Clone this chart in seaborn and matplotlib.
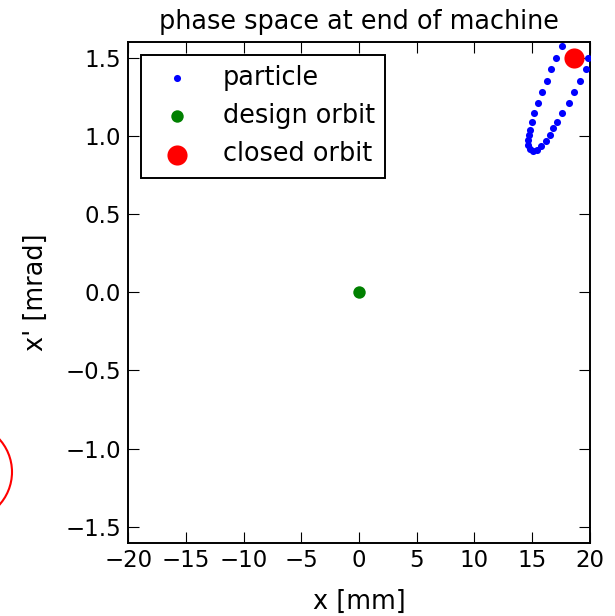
import matplotlib
matplotlib.use("Agg")
import matplotlib.pyplot as plt
from matplotlib.patches import Ellipse
import seaborn as sns
import pandas as pd

# Tracked particle coordinates at the end of the machine (turn by turn)
particle_x = [17.55, 17.11, 16.68, 16.27, 15.90, 15.54, 15.19, 15.03, 14.84,
              14.74, 14.67, 14.65, 14.80, 15.09, 15.43, 15.81, 16.19, 16.53,
              16.82, 17.17, 17.55, 18.19, 18.64, 19.13, 19.63, 19.85]
particle_xp = [1.575, 1.500, 1.425, 1.350, 1.279, 1.209, 1.145, 1.088, 1.037,
               1.005, 0.975, 0.943, 0.917, 0.900, 0.911, 0.932, 0.964, 1.002,
               1.048, 1.091, 1.146, 1.208, 1.278, 1.350, 1.424, 1.499]

# Reference orbits
design_x, design_xp = [0.0], [0.0]
closed_x, closed_xp = [18.6], [1.5]

x_ticks = [-20, -15, -10, -5, 0, 5, 10, 15, 20]
y_ticks = [-1.5, -1.0, -0.5, 0.0, 0.5, 1.0, 1.5]

tick_size = 16.5
text_size = 18.4
sns.set_theme(style="white")
plt.rcParams.update({
    "font.family": ["DejaVu Sans"],
    "font.size": tick_size,
    "xtick.labelsize": tick_size,
    "ytick.labelsize": tick_size,
    "axes.labelsize": text_size,
    "axes.titlesize": text_size,
    "legend.fontsize": text_size,
    "axes.edgecolor": "black",
    "axes.linewidth": 1.4,
    "xtick.direction": "in",
    "ytick.direction": "in",
    "xtick.top": True,
    "ytick.right": True,
    "xtick.bottom": True,
    "ytick.left": True,
    "xtick.major.size": 8,
    "ytick.major.size": 8,
    "xtick.major.width": 0.8,
    "ytick.major.width": 0.8,
    "xtick.major.pad": 5,
    "ytick.major.pad": 5,
    "xtick.color": "black",
    "ytick.color": "black",
    "text.color": "black",
    "axes.labelcolor": "black",
})

fig = plt.figure(figsize=(6.15, 6.16), dpi=100)
ax = fig.add_axes([0.2086, 0.1193, 0.7504, 0.8127])

particles = pd.DataFrame({"x": particle_x, "xp": particle_xp})
sns.scatterplot(data=particles, x="x", y="xp", ax=ax, color="blue", s=26,
                linewidth=0, label="particle", zorder=3)
sns.scatterplot(x=design_x, y=design_xp, ax=ax, color="green", s=80,
                linewidth=0, label="design orbit", zorder=3)
sns.scatterplot(x=closed_x, y=closed_xp, ax=ax, color="red", s=210,
                linewidth=0, label="closed orbit", zorder=4)

ax.set_xlim(-20, 20)
ax.set_ylim(-1.6, 1.6)
ax.set_xticks(x_ticks)
ax.set_yticks(y_ticks)
ax.set_xlabel("x [mm]", labelpad=12)
ax.set_ylabel("x' [mrad]", labelpad=12)
ax.set_title("phase space at end of machine", pad=9)

leg = ax.legend(loc="upper left", scatterpoints=1, fancybox=False,
                framealpha=1, borderaxespad=0.5, handletextpad=0.8,
                labelspacing=0.48, borderpad=0.4)
leg.get_frame().set_edgecolor("black")
leg.get_frame().set_linewidth(1.4)

# Red ring marker drawn at the left margin of the figure
fig.patches.append(Ellipse((-37 / 615, 1 - 472 / 616), 2 * 49 / 615,
                           2 * 49 / 616, transform=fig.transFigure,
                           fill=False, edgecolor="red", linewidth=1.5))

fig.savefig("out.png", dpi=100)
